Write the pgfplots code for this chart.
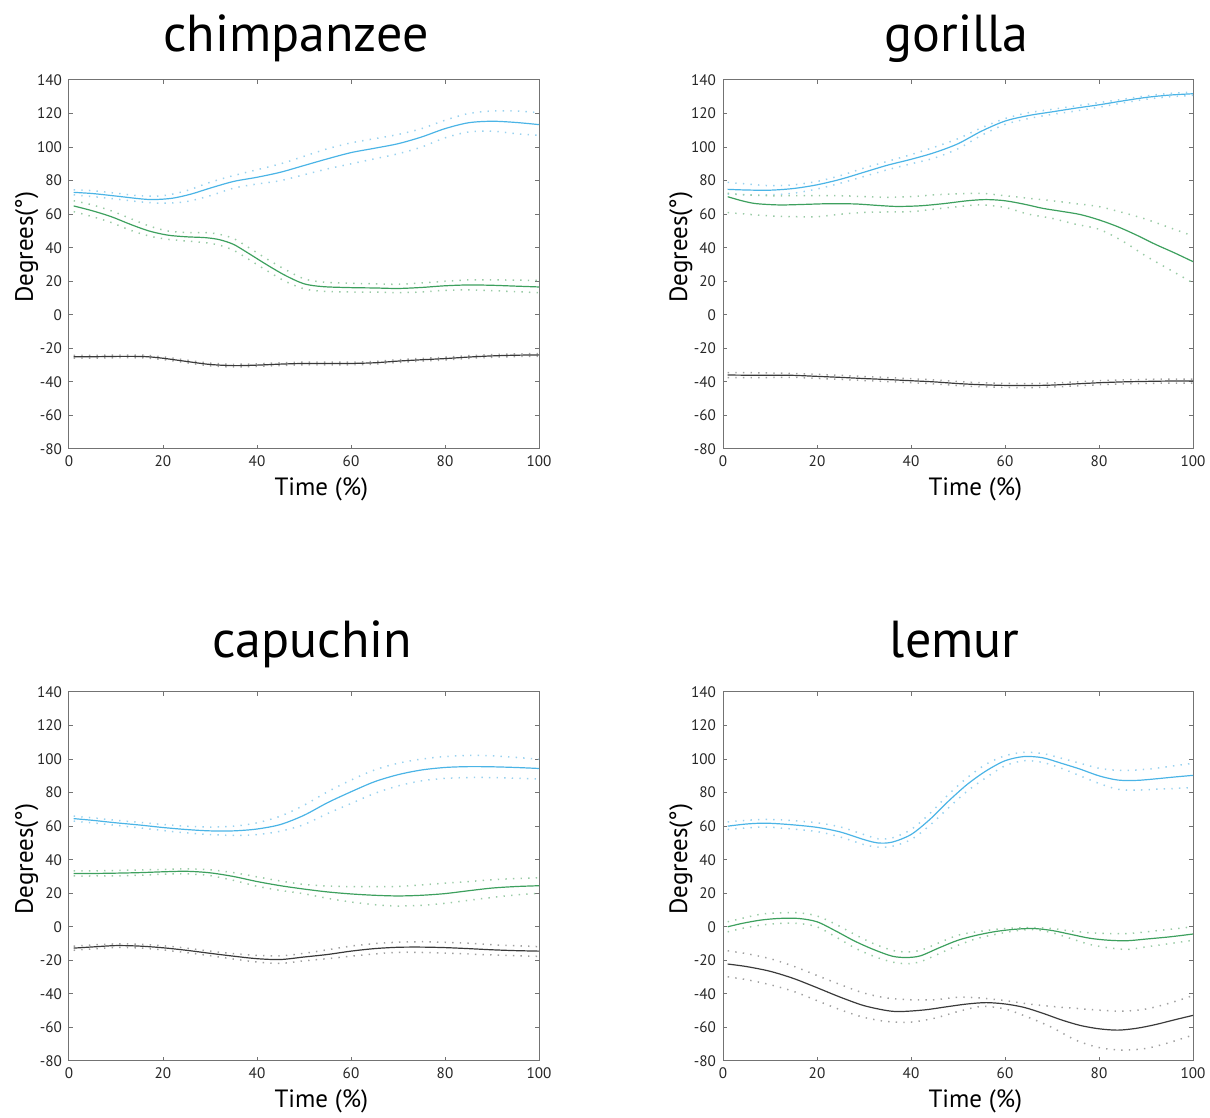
\documentclass[border=0pt]{standalone}
\usepackage{fontspec}
\setmainfont{PT Sans}
\usepackage{pgfplots}
\pgfplotsset{compat=1.18}

\definecolor{cBlue}{HTML}{4BB4E6}
\definecolor{cGreen}{HTML}{3DA05E}
\definecolor{cBlack}{HTML}{3A3A3A}
\definecolor{cBlueSD}{HTML}{9AD2EF}
\definecolor{cGreenSD}{HTML}{9ACBA6}
\definecolor{cBlackSD}{HTML}{A0A0A0}

\pgfplotsset{
  panel/.style={
    scale only axis, width=235pt, height=184.5pt,
    xmin=0, xmax=100, ymin=-80, ymax=140,
    xtick={0,20,...,100}, ytick={-80,-60,...,140},
    tick align=inside, major tick length=2pt,
    axis line style={draw=black!55, line width=0.5pt},
    tick style={draw=black!55, line width=0.5pt},
    ticklabel style={font=\fontsize{7.6}{8}\selectfont, text=black!85},
    /pgf/number format/assume math mode=true,
    xlabel={Time (\%)}, ylabel={Degrees(°)},
    label style={font=\fontsize{12.5}{14}\selectfont},
    xlabel style={at={(axis description cs:0.537,-0.127)}, anchor=base},
    ylabel style={at={(axis description cs:-0.0766,0.547)}, anchor=base},
    title style={font=\fontsize{26}{29}\selectfont, anchor=base},
  },
  mean/.style={line width=0.6pt, smooth},
  sd/.style={line width=0.75pt, dash pattern=on 0.7pt off 3.1pt, smooth},
}

\begin{document}
\begin{tikzpicture}
\useasboundingbox (0,0) rectangle (605pt,559pt);

% ---------------- chimpanzee ----------------
\begin{axis}[panel, at={(34.5pt,334.5pt)}, anchor=south west,
  title={chimpanzee}, title style={at={(axis description cs:0.483,1.046)}}]
\addplot[sd, cBlueSD] coordinates {(1,74.5)(5,74)(10,72.5)(15,71)(20,71)(25,74)(30,79)(35,83)(40,86.5)(45,90)(50,94.5)(55,99)(60,102.5)(65,105)(70,107.5)(75,111)(80,116)(85,120)(90,121.5)(95,121.5)(100,120.5)};
\addplot[sd, cBlueSD] coordinates {(1,71.5)(5,70.5)(10,69)(15,67.4)(20,66.5)(25,67.5)(30,71)(35,75.5)(40,78)(45,80)(50,83.5)(55,87)(60,90)(65,93)(70,96)(75,100)(80,105.5)(85,109)(90,109.5)(95,108)(100,107)};
\addplot[mean, cBlue] coordinates {(1,73)(5,72.3)(10,70.8)(15,69.2)(18,68.7)(22,69.5)(26,72)(30,75.5)(35,79.5)(40,82)(45,85)(50,89)(55,93)(60,96.7)(65,99.3)(70,102)(75,106)(80,111)(85,114.5)(90,115.4)(95,114.7)(100,113.4)};
\addplot[sd, cGreenSD] coordinates {(1,68)(5,65.5)(9,62)(13,57.5)(17,53)(21,50)(25,49)(29,49)(32,48)(35,45.5)(38,40.5)(42,33.5)(46,27)(50,21.5)(54,19.5)(60,18.8)(65,18.5)(70,18.2)(75,19)(80,20)(85,20.8)(90,20.8)(95,20.7)(100,20.5)};
\addplot[sd, cGreenSD] coordinates {(1,61.5)(5,58.5)(9,55)(13,50.5)(17,47)(21,45)(25,44)(29,43)(32,41.5)(35,38.5)(38,33.5)(42,26.5)(46,20)(50,15.5)(54,14)(60,13.6)(65,13.5)(70,13.2)(75,13.6)(80,14.6)(85,14.8)(90,14.4)(95,13.8)(100,13.2)};
\addplot[mean, cGreen] coordinates {(1,64.9)(5,62)(9,58.5)(13,54)(17,50)(21,47.5)(25,46.5)(29,46)(32,44.8)(35,42)(38,37)(42,30)(46,23.5)(50,18.5)(54,16.8)(60,16.2)(65,16)(70,15.7)(75,16.3)(80,17.3)(85,17.8)(90,17.6)(95,17.1)(100,16.6)};
\addplot[sd, cBlackSD] coordinates {(1,-24.2)(5,-24.2)(10,-24)(16,-24.1)(20,-25.1)(25,-27)(30,-28.8)(35,-29.5)(40,-29.2)(45,-28.6)(50,-28.2)(55,-28.2)(60,-28.2)(65,-27.8)(70,-26.8)(75,-26)(80,-25.3)(85,-24.4)(90,-23.7)(95,-23.3)(100,-23.1)};
\addplot[sd, cBlackSD] coordinates {(1,-25.8)(5,-25.8)(10,-25.6)(16,-25.7)(20,-26.7)(25,-28.6)(30,-30.4)(35,-31.1)(40,-30.8)(45,-30.2)(50,-29.8)(55,-29.8)(60,-29.8)(65,-29.4)(70,-28.4)(75,-27.6)(80,-26.9)(85,-26)(90,-25.3)(95,-24.9)(100,-24.7)};
\addplot[mean, cBlack] coordinates {(1,-25)(5,-25)(10,-24.8)(16,-24.9)(20,-25.9)(25,-27.8)(30,-29.6)(35,-30.3)(40,-30)(45,-29.4)(50,-29)(55,-29)(60,-29)(65,-28.6)(70,-27.6)(75,-26.8)(80,-26.1)(85,-25.2)(90,-24.5)(95,-24.1)(100,-23.9)};
\end{axis}

% ---------------- gorilla ----------------
\begin{axis}[panel, at={(361.5pt,334.5pt)}, anchor=south west,
  title={gorilla}, title style={at={(axis description cs:0.497,1.046)}}]
\addplot[sd, cBlueSD] coordinates {(1,79)(5,78)(10,77)(15,77.5)(20,79.5)(25,83)(30,87.5)(35,91.5)(40,95.5)(45,100)(50,105)(55,111.5)(60,117)(65,120.5)(70,122.5)(75,124.5)(80,126.5)(85,128.5)(90,130.5)(95,132)(100,132.8)};
\addplot[sd, cBlueSD] coordinates {(1,72)(5,71.5)(10,71.5)(15,72.5)(20,75)(25,78.5)(30,82.5)(35,86.5)(40,90)(45,93.5)(50,99)(55,107)(60,113.5)(65,117)(70,119.5)(75,121.5)(80,123.8)(85,126.3)(90,128.5)(95,130)(100,130.8)};
\addplot[mean, cBlue] coordinates {(1,74.8)(5,74.4)(10,74.3)(15,75.3)(20,77.5)(25,80.8)(30,85)(35,89.2)(40,92.7)(45,96.7)(50,102)(55,109.5)(60,115.5)(65,118.8)(70,121)(75,123.2)(80,125.2)(85,127.5)(90,129.6)(95,131)(100,131.8)};
\addplot[sd, cGreenSD] coordinates {(1,72.5)(5,71.5)(10,71)(15,71)(20,71)(25,71)(30,70.5)(35,70)(40,70.5)(45,71.5)(50,72.2)(55,72.4)(60,71)(65,69.5)(70,68)(75,66.3)(80,64.5)(85,61)(90,57)(95,52)(100,47)};
\addplot[sd, cGreenSD] coordinates {(1,61)(5,60)(10,59)(15,58.5)(20,58.5)(25,60)(30,61)(35,61.3)(40,61.5)(45,63)(50,64.5)(55,65.5)(60,64)(65,60)(70,57.5)(75,54)(80,51)(85,44)(90,35)(95,27)(100,19)};
\addplot[mean, cGreen] coordinates {(1,70.4)(4,68)(7,66.3)(12,65.5)(17,65.8)(22,66.2)(28,66.1)(33,65.2)(37,64.6)(42,65)(47,66.3)(52,68)(56,68.7)(60,68)(64,66)(68,63.5)(72,61.7)(76,59.8)(80,56.6)(84,52.5)(88,47.5)(92,42)(96,37)(100,31.7)};
\addplot[sd, cBlackSD] coordinates {(1,-34.4)(5,-34.5)(10,-34.7)(15,-35)(20,-35.5)(25,-36.1)(30,-36.8)(35,-37.4)(40,-38.1)(45,-38.8)(50,-39.8)(55,-40.5)(60,-40.9)(65,-41)(70,-40.7)(75,-40)(80,-39.3)(85,-38.8)(90,-38.5)(95,-38.3)(100,-38.3)};
\addplot[sd, cBlackSD] coordinates {(1,-37.4)(5,-37.5)(10,-37.4)(15,-37.3)(20,-37.9)(25,-38.5)(30,-39.2)(35,-39.8)(40,-40.5)(45,-41.2)(50,-42.2)(55,-42.9)(60,-43.3)(65,-43.4)(70,-43.1)(75,-42.4)(80,-41.7)(85,-41.2)(90,-40.9)(95,-40.7)(100,-40.7)};
\addplot[mean, cBlack] coordinates {(1,-35.9)(5,-36)(10,-36)(15,-36.1)(20,-36.7)(25,-37.3)(30,-38)(35,-38.6)(40,-39.3)(45,-40)(50,-41)(55,-41.7)(60,-42.1)(65,-42.2)(70,-41.9)(75,-41.2)(80,-40.5)(85,-40)(90,-39.7)(95,-39.5)(100,-39.5)};
\end{axis}

% ---------------- capuchin ----------------
\begin{axis}[panel, at={(34.5pt,28.5pt)}, anchor=south west,
  title={capuchin}, title style={at={(axis description cs:0.517,1.062)}}]
\addplot[sd, cBlueSD] coordinates {(1,66)(5,65)(10,63.5)(15,62.3)(20,61)(25,60)(30,59.5)(35,60)(40,62)(45,66)(50,72.5)(55,80.5)(60,87.5)(65,93.5)(70,97.5)(75,100)(80,101.5)(85,102.2)(90,102)(95,101)(100,100)};
\addplot[sd, cBlueSD] coordinates {(1,63)(5,62)(10,60.5)(15,59)(20,57.4)(25,56)(30,55)(35,54.5)(40,55)(45,57)(50,61)(55,67.5)(60,73.5)(65,79.5)(70,84)(75,87)(80,88.5)(85,89)(90,89)(95,88.6)(100,88.1)};
\addplot[mean, cBlue] coordinates {(1,64.5)(5,63.5)(10,62)(15,60.7)(20,59.2)(25,58)(30,57.2)(35,57.2)(40,58.3)(45,61)(50,66.5)(55,74)(60,80.5)(65,86.5)(70,90.7)(75,93.5)(80,95)(85,95.5)(90,95.4)(95,95)(100,94.4)};
\addplot[sd, cGreenSD] coordinates {(1,33.3)(5,33.3)(10,33.6)(15,33.9)(20,34.2)(25,34.6)(30,34)(35,32.3)(40,29.8)(45,27.3)(50,25.3)(55,24.3)(60,24)(65,24)(70,24.1)(75,25)(80,26)(85,27)(90,28)(95,28.8)(100,29.2)};
\addplot[sd, cGreenSD] coordinates {(1,30.3)(5,30.3)(10,30.4)(15,30.7)(20,31.4)(25,31.6)(30,30.5)(35,27.7)(40,24.2)(45,21.7)(50,19.7)(55,17)(60,14.8)(65,13.2)(70,12.4)(75,12.8)(80,14)(85,15.8)(90,17.5)(95,19)(100,20)};
\addplot[mean, cGreen] coordinates {(1,31.8)(5,31.8)(10,32)(15,32.3)(20,32.8)(25,33.1)(30,32.2)(35,30)(40,27)(45,24.5)(50,22.5)(55,20.8)(60,19.6)(65,18.8)(70,18.4)(75,18.8)(80,19.8)(85,21.5)(90,23.1)(95,24)(100,24.5)};
\addplot[sd, cBlackSD] coordinates {(1,-11.5)(5,-10.8)(10,-10.2)(15,-10.4)(20,-11.3)(25,-12.7)(30,-14.5)(35,-16)(40,-17)(45,-17.3)(50,-15.8)(55,-13.7)(60,-11.5)(65,-10)(70,-9.2)(75,-8.9)(80,-9.2)(85,-9.8)(90,-10.7)(95,-11.3)(100,-11.8)};
\addplot[sd, cBlackSD] coordinates {(1,-14)(5,-13.2)(10,-12.3)(15,-12.6)(20,-13.8)(25,-15.4)(30,-17.2)(35,-19.2)(40,-21)(45,-21.8)(50,-20.3)(55,-19)(60,-17.5)(65,-16.2)(70,-15.2)(75,-15.3)(80,-15.7)(85,-16.2)(90,-16.8)(95,-17.2)(100,-17.6)};
\addplot[mean, cBlack] coordinates {(1,-12.7)(5,-12)(10,-11.2)(15,-11.5)(20,-12.5)(25,-14)(30,-15.8)(35,-17.5)(40,-19)(45,-19.5)(50,-18)(55,-16.5)(60,-14.5)(65,-13)(70,-12.2)(75,-12.1)(80,-12.4)(85,-13)(90,-13.7)(95,-14.2)(100,-14.5)};
\end{axis}

% ---------------- lemur ----------------
\begin{axis}[panel, at={(361.5pt,28.5pt)}, anchor=south west,
  title={lemur}, title style={at={(axis description cs:0.493,1.062)}}]
\addplot[sd, cBlueSD] coordinates {(1,62.5)(5,63.5)(9,64)(14,63.5)(20,62)(25,59.5)(30,55)(33,52.5)(36,53)(40,58)(44,67.5)(48,79)(52,89)(56,97)(60,102)(64,104)(68,103.3)(72,100.5)(76,97.5)(80,94.5)(84,93.3)(88,93.5)(92,94.5)(96,96)(100,97.5)};
\addplot[sd, cBlueSD] coordinates {(1,58)(5,59)(9,59.5)(14,58.5)(20,56.8)(25,53.5)(30,49)(33,47.5)(36,48)(40,52)(44,60.5)(48,71)(52,81)(56,89)(60,96)(64,99)(68,98)(72,94.5)(76,90)(80,85.5)(84,82)(88,81.5)(92,82)(96,82.5)(100,83)};
\addplot[mean, cBlue] coordinates {(1,60)(5,61.3)(9,61.8)(14,61)(20,59.3)(25,56.5)(30,52)(33,50)(36,50.5)(40,55)(44,64)(48,75)(52,85)(56,93)(60,99)(64,101.5)(68,100.8)(72,97.5)(76,94)(80,90)(84,87.5)(88,87.3)(92,88.2)(96,89.3)(100,90.3)};
\addplot[sd, cGreenSD] coordinates {(1,3)(4,5)(8,7.5)(12,8.3)(16,8.4)(20,6.5)(24,1.5)(28,-4.5)(32,-10)(36,-14)(39,-15)(42,-14)(46,-9.5)(50,-5)(54,-3)(58,-1.5)(62,-0.7)(66,-0.4)(70,-1)(74,-2.5)(78,-3.5)(82,-4)(86,-4)(90,-3)(95,-1.5)(100,0)};
\addplot[sd, cGreenSD] coordinates {(1,-3)(4,-1)(8,1)(12,2)(16,2)(20,0)(24,-6)(28,-12.5)(32,-17.5)(36,-21)(39,-22)(42,-20.8)(46,-16)(50,-11)(54,-7)(58,-4.5)(62,-2.5)(66,-1.7)(70,-3.5)(74,-7)(78,-10.5)(82,-12.5)(86,-13.5)(90,-12)(95,-10)(100,-8)};
\addplot[mean, cGreen] coordinates {(1,0)(4,2)(8,4)(12,5)(16,5)(20,3)(24,-2.5)(28,-8.5)(32,-13.5)(36,-17.5)(39,-18.3)(42,-17.3)(46,-12.5)(50,-8)(54,-5)(58,-2.8)(62,-1.5)(66,-1)(70,-2.2)(74,-4.5)(78,-6.8)(82,-8)(86,-8.3)(90,-7.3)(95,-6)(100,-4.3)};
\addplot[sd, cBlackSD] coordinates {(1,-14.3)(5,-16)(10,-19)(15,-23.5)(20,-29)(25,-34.5)(30,-39.5)(35,-42.5)(40,-43.5)(45,-43.5)(50,-42)(55,-42.5)(60,-44)(65,-46)(70,-47.5)(75,-48.6)(80,-49.7)(85,-50.3)(90,-49)(95,-45.5)(100,-41)};
\addplot[sd, cBlackSD] coordinates {(1,-29.8)(5,-31.5)(10,-34.5)(15,-38.5)(20,-44)(25,-49.5)(30,-54)(35,-56.5)(40,-56.8)(45,-54.5)(50,-50.5)(55,-47.5)(60,-49)(65,-54)(70,-60)(75,-67.5)(80,-72)(85,-73.5)(90,-72.5)(95,-69)(100,-64.5)};
\addplot[mean, cBlack] coordinates {(1,-22.2)(5,-23.7)(10,-26.5)(15,-30.8)(20,-36.3)(25,-42)(30,-47)(35,-50)(38,-50.5)(43,-49.5)(48,-47.5)(52,-46)(56,-45.2)(60,-46)(64,-48)(68,-51.5)(72,-55.5)(76,-58.8)(80,-60.8)(84,-61.6)(88,-60.5)(92,-58.3)(96,-55.5)(100,-52.8)};
\end{axis}
\end{tikzpicture}
\end{document}
